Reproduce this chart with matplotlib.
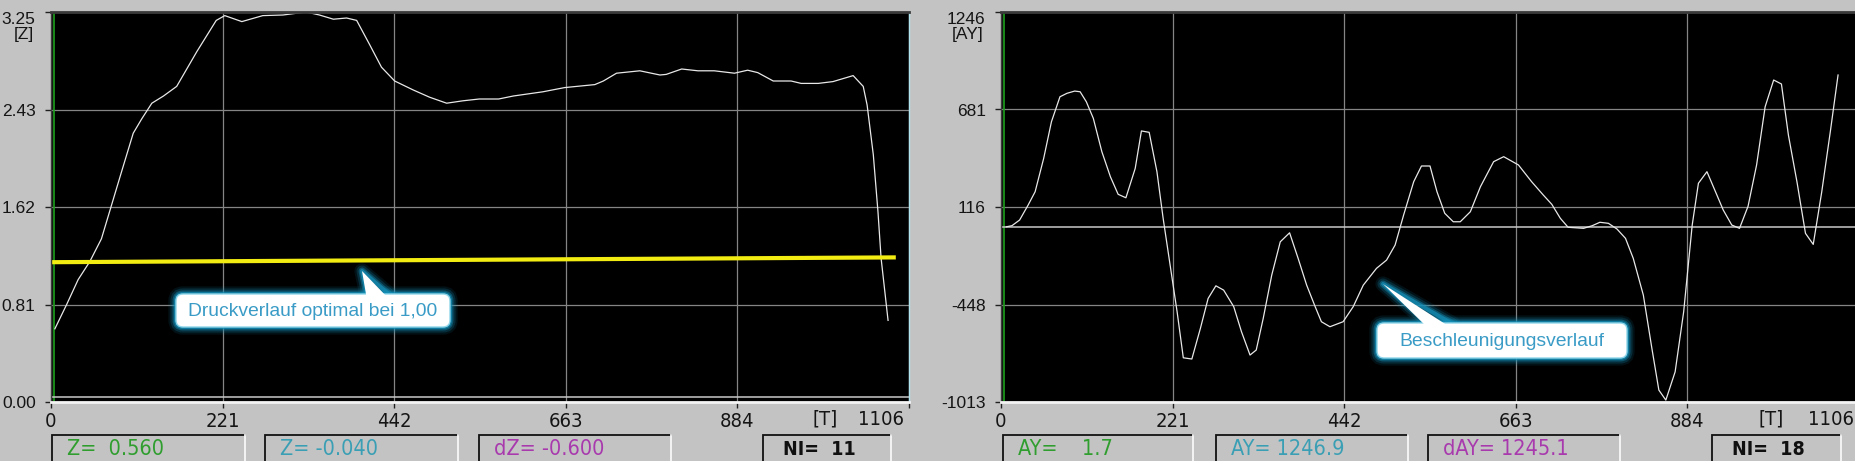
import matplotlib
matplotlib.use('Agg')
import matplotlib.pyplot as plt
from matplotlib import font_manager
from matplotlib.patches import FancyBboxPatch, Polygon

# ---------------- data ----------------
x_ticks = [0, 221.2, 442.4, 663.6, 884.8]
x_labels = ['0', '221', '442', '663', '884']
x_end = 1106
x_end_label = '1106'

z_yticks = [0, 0.8125, 1.625, 2.4375, 3.25]
z_ylabels = ['0.00', '0.81', '1.62', '2.43', '3.25']
ay_yticks = [-1013, -448.25, 116.5, 681.25, 1246]
ay_ylabels = ['-1013', '-448', '116', '681', '1246']

z_t = [5, 20, 35, 50, 65, 78, 91, 106, 117, 130, 145, 162, 188, 213, 224, 246, 273, 299, 329, 346,
       364, 381, 394, 411, 426, 443, 467, 488, 510, 531, 552, 577, 596, 634, 662, 701, 712, 729, 759, 785,
       793, 813, 834, 855, 881, 898, 911, 931, 954, 967, 989, 1008, 1034, 1047, 1052, 1060, 1066, 1070, 1079]
z_val = [0.61, 0.81, 1.02, 1.17, 1.36, 1.64, 1.92, 2.24, 2.36, 2.49, 2.55, 2.63, 2.92, 3.18, 3.22, 3.17, 3.22, 3.225, 3.25, 3.225,
         3.19, 3.20, 3.18, 2.975, 2.79, 2.675, 2.60, 2.54, 2.49, 2.51, 2.525, 2.525, 2.55, 2.585, 2.62, 2.645, 2.675, 2.74, 2.76, 2.725,
         2.73, 2.775, 2.76, 2.76, 2.74, 2.765, 2.745, 2.675, 2.675, 2.655, 2.655, 2.67, 2.72, 2.63, 2.475, 2.06, 1.585, 1.20, 0.68]

opt_t = [0, 1089]
opt_val = [1.165, 1.205]
z_ref = 0.045

ay_t = [7, 14, 24, 35, 44, 55, 65, 76, 85, 95, 102, 110, 119, 130, 141, 151, 161, 173, 181, 191,
        201, 209, 218, 227, 235, 246, 257, 267, 277, 287, 300, 310, 321, 329, 338, 349, 360, 372, 383, 394,
        405, 413, 424, 441, 454, 467, 484, 497, 508, 519, 532, 542, 553, 562, 572, 583, 592, 605, 618, 635,
        648, 667, 684, 699, 710, 721, 731, 751, 762, 772, 783, 794, 805, 815, 828, 839, 848, 857, 869, 880,
        891, 899, 910, 921, 931, 942, 952, 963, 974, 985, 996, 1006, 1015, 1026, 1037, 1047, 1058, 1069, 1079]
ay_val = [2, 8, 41, 128, 205, 398, 610, 755, 775, 788, 784, 726, 630, 437, 292, 190, 170, 340, 557, 549,
          321, 51, -220, -490, -757, -764, -587, -413, -340, -365, -461, -606, -741, -712, -529, -278, -85, -33, -181, -336,
          -461, -548, -577, -548, -461, -336, -239, -191, -104, 70, 263, 354, 354, 205, 80, 31, 31, 89, 234, 379,
          408, 360, 263, 186, 132, 51, -1, -7, 8, 28, 22, -11, -65, -181, -394, -702, -944, -1002, -838, -490,
          12, 254, 321, 205, 99, 12, -7, 121, 360, 697, 852, 829, 533, 263, -36, -100, 205, 552, 881]
ay_ref = 0

z_status = ['Z=  0.560', 'Z= -0.040', 'dZ= -0.600', 'NI=  11']
ay_status = ['AY=    1.7', 'AY= 1246.9', 'dAY= 1245.1', 'NI=  18']
callout_texts = ['Druckverlauf optimal bei 1,00', 'Beschleunigungsverlauf']

# ---------------- style ----------------
W, H = 1855, 461
BG = '#c3c3c3'
fig = plt.figure(figsize=(W / 100, H / 100), dpi=100)
fig.patch.set_facecolor(BG)

names = {f.name for f in font_manager.fontManager.ttflist}
if 'Liberation Sans Narrow' in names:
    NARROW = dict(family='Liberation Sans Narrow')
else:
    NARROW = dict(family='DejaVu Sans', stretch='condensed')
REG = 'Liberation Sans' if 'Liberation Sans' in names else 'DejaVu Sans'
TXT = '#151515'


def px_axes(x0, y0, x1, y1):
    return fig.add_axes([x0 / W, 1 - y1 / H, (x1 - x0) / W, (y1 - y0) / H])


def setup(ax, yticks, ylabels):
    ax.set_facecolor('black')
    ax.set_xlim(0, x_end)
    ax.set_ylim(yticks[0], yticks[-1])
    ax.set_xticks(x_ticks + [x_end])
    ax.set_xticklabels(x_labels + [''], fontsize=14.5, color=TXT, **NARROW)
    ax.annotate(x_end_label, xy=(x_end, 0), xycoords=('data', 'axes fraction'),
                xytext=(-5, -17), textcoords='offset pixels', ha='right', va='center',
                fontsize=14.5, color=TXT, annotation_clip=False, **NARROW)
    ax.set_yticks(yticks)
    yl = ax.set_yticklabels(ylabels, fontsize=12.5, color=TXT, family=REG)
    yl[-1].set_va('top')
    ax.tick_params(axis='y', length=4.5, width=1, color='#202020', pad=6.5)
    ax.tick_params(axis='x', length=4.5, width=1, color='#202020', pad=3)
    ax.grid(True, color='#858585', lw=0.9)
    ax.set_axisbelow(True)
    for s in ('top', 'left'):
        ax.spines[s].set_color('#3a3a3a')
    ax.spines['top'].set_linewidth(2)
    ax.spines['left'].set_linewidth(1)
    ax.spines['bottom'].set_color('#f4f4f4')
    ax.spines['bottom'].set_linewidth(2)
    ax.spines['right'].set_color('#b0e4ee')
    ax.spines['right'].set_linewidth(1)
    ax.axvline(4, color='#1ea01e', lw=1.2)


axL = px_axes(51, 12, 909, 402)
setup(axL, z_yticks, z_ylabels)
axL.axhline(z_ref, color='#c8c8c8', lw=1.1)
axL.plot(z_t, z_val, color='#e8e8e8', lw=0.9)
axL.plot(opt_t, opt_val, color='#f2ec12', lw=3, solid_capstyle='butt')

axR = px_axes(1001, 12, 1859, 402)
setup(axR, ay_yticks, ay_ylabels)
axR.axhline(ay_ref, color='#c8c8c8', lw=1.1)
axR.plot(ay_t, ay_val, color='#e8e8e8', lw=0.9)

# ---------------- overlay (pixel coordinates) ----------------
ov = fig.add_axes([0, 0, 1, 1])
ov.set_xlim(0, W)
ov.set_ylim(H, 0)
ov.axis('off')
ov.patch.set_alpha(0)
ov.set_zorder(10)

ov.text(24, 35, '[Z]', fontsize=12.5, family=REG, color=TXT, ha='center', va='center')
ov.text(968, 35, '[AY]', fontsize=12.5, family=REG, color=TXT, ha='center', va='center')
ov.text(825, 419, '[T]', fontsize=14.5, color=TXT, ha='center', va='center', **NARROW)
ov.text(1771, 419, '[T]', fontsize=14.5, color=TXT, ha='center', va='center', **NARROW)


def callout(x0, y0, x1, y1, tri, text):
    gc = '#1590b8'
    style = 'round,pad=0,rounding_size=7'
    for lw, a in [(11, 0.12), (8, 0.22), (5, 0.42), (2.8, 0.7)]:
        ov.add_patch(FancyBboxPatch((x0, y0), x1 - x0, y1 - y0, boxstyle=style,
                                    fc='none', ec=gc, lw=lw, alpha=a))
        ov.add_patch(Polygon(tri, closed=True, fc='none', ec=gc, lw=lw, alpha=a, joinstyle='round'))
    ov.add_patch(FancyBboxPatch((x0, y0), x1 - x0, y1 - y0, boxstyle=style,
                                fc='white', ec='#8fd6ea', lw=1))
    t = [tri[0], (tri[1][0], tri[1][1] + 5), (tri[2][0], tri[2][1] + 5)]
    ov.add_patch(Polygon(t, closed=True, fc='white', ec='none'))
    ov.text((x0 + x1) / 2, (y0 + y1) / 2 + 0.5, text, fontsize=13.9, family=REG,
            color='#3a9cc6', ha='center', va='center')


callout(176, 294, 450, 327, [(362, 271), (367, 295), (390, 295)], callout_texts[0])
callout(1377, 323, 1627, 358, [(1383, 284), (1429, 324), (1453, 324)], callout_texts[1])


def status_box(x0, x1, text, color, bold=False):
    y0 = 435
    ov.plot([x0, x0, x1], [H + 3, y0, y0], color='#111111', lw=1.3, solid_joinstyle='miter')
    ov.plot([x1, x1], [y0, H + 3], color='#f8f8f8', lw=1.3)
    ov.text(x0 + (20 if bold else 15), 449, text, color=color, fontsize=14 if bold else 15.5,
            va='center', ha='left', weight='bold' if bold else 'normal', **NARROW)


colors = ['#2f9e2f', '#3a9fb4', '#a83aae', '#101010']
left_boxes = [(52, 245), (265, 458), (479, 671), (763, 891)]
right_boxes = [(1003, 1193), (1216, 1408), (1428, 1620), (1712, 1841)]
for i, (a, b) in enumerate(left_boxes):
    status_box(a, b, z_status[i], colors[i], bold=(i == 3))
for i, (a, b) in enumerate(right_boxes):
    status_box(a, b, ay_status[i], colors[i], bold=(i == 3))

fig.savefig('out.png', dpi=100, facecolor=fig.get_facecolor())
